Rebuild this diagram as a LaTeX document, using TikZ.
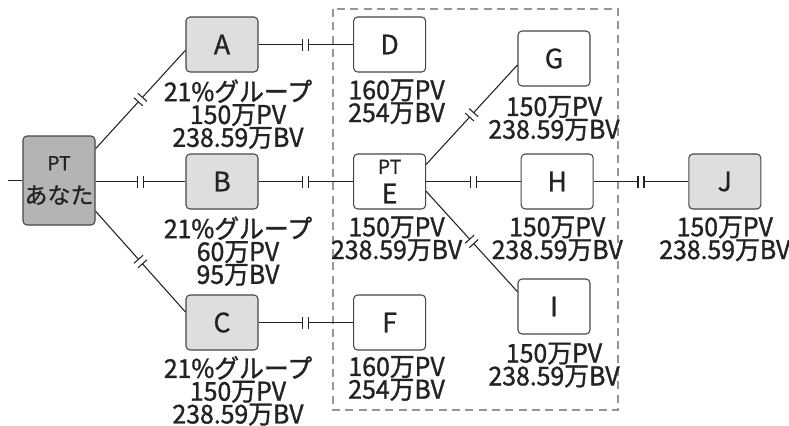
\documentclass[tikz,border=0pt]{standalone}
\usepackage{fontspec}
\setmainfont{Noto Sans CJK JP}[FakeBold=0.8]
\newfontfamily\lblfont{Noto Sans CJK JP}[FakeStretch=0.96,FakeBold=1.2]
\usetikzlibrary{positioning,decorations.markings,calc}
\definecolor{youfill}{RGB}{180,180,183}
\definecolor{memfill}{RGB}{221,222,224}
\definecolor{edge}   {RGB}{ 70, 70, 70}
\definecolor{ink}    {RGB}{ 35, 35, 35}
\definecolor{grpline}{RGB}{150,150,150}
\newcommand{\infofont}{\lblfont\fontsize{19.4}{17.1}\selectfont\lineskiplimit=-30pt\relax}
\tikzset{
  box/.style   ={rectangle,draw=edge,line width=0.8pt,rounded corners=3pt,
                 minimum width=54pt,minimum height=41.25pt,inner sep=0pt,
                 align=center,text=ink,font=\fontsize{20}{21}\selectfont},
  boxg/.style  ={box,fill=memfill},
  boxw/.style  ={box,fill=white},
  youbox/.style={box,fill=youfill,minimum height=66.75pt},
  info/.style  ={align=center,inner sep=0pt,text=ink,font=\infofont},
  infol/.style ={info,xshift=12pt},
  infom/.style ={info,xshift=5.25pt},
  link/.style  ={line width=0.8pt,draw=ink},
  cut/.style   ={link,postaction={decorate},
                 decoration={markings,mark=at position 0.5 with {
                   \fill[white] (-2.25pt,-4.5pt) rectangle (2.25pt,4.5pt);
                   \draw[link] (-2.25pt,-4.5pt) -- (-2.25pt,4.5pt)
                               (2.25pt,-4.5pt) -- (2.25pt,4.5pt);}}},
}
\newcommand{\ptsmall}{{\fontsize{14.5}{15}\selectfont PT}}

\begin{document}
\begin{tikzpicture}[x=0.75pt,y=-0.75pt,node distance=70.9pt]
  \useasboundingbox (0,0) rectangle (789,425);
  % group frame
  \draw[grpline,line width=0.8pt,dash pattern=on 6pt off 4pt] (333,9) rectangle (618,410);
  % members
  \node[youbox] (you) at (59,180.5) {\ptsmall\\[4pt]{\fontsize{17.2}{18}\selectfont あなた}};
  \node[boxg] (A) at (222,44.5)  {A};
  \node[boxg] (B) at (222,181.5) {B};
  \node[boxg] (C) at (222,322.5) {C};
  \node[boxw,right=of A] (D) {D};
  \node[boxw,right=of B] (E) {\ptsmall\\[1pt]E};
  \node[boxw,right=of C] (F) {F};
  \node[boxw] (G) at (554,58.5)  {G};
  \node[boxw,right=of E] (H) {H};
  \node[boxw] (I) at (554,306.5) {I};
  \node[boxg,right=of H] (J) {J};
  \coordinate[left=10.5pt of you.west] (feed);
  % figures
  \node[infol,below=5pt of A] (Ainfo) {21\%グループ\\150万PV\\238.59万BV};
  \node[infol,below=5pt of B] (Binfo) {21\%グループ\\60万PV\\95万BV};
  \node[infol,below=4pt of C] (Cinfo) {21\%グループ\\150万PV\\238.59万BV};
  \node[infom,below=5pt of D] (Dinfo) {160万PV\\254万BV};
  \node[infom,below=5pt of E] (Einfo) {150万PV\\238.59万BV};
  \node[infom,below=4pt of F] (Finfo) {160万PV\\254万BV};
  \node[info,below=7pt of G]  (Ginfo) {150万PV\\238.59万BV};
  \node[info,below=5pt of H]  (Hinfo) {150万PV\\238.59万BV};
  \node[info,below=6pt of I]  (Iinfo) {150万PV\\238.59万BV};
  \node[info,below=5pt of J]  (Jinfo) {150万PV\\238.59万BV};
  % links
  \draw[link] (feed) -- (you.west);
  \draw[cut] (you.east |- B.west) -- (B.west);
  \draw[cut] (you.41) -- (A.189);
  \draw[cut] (you.320) -- (C.164);
  \draw[cut] (A) -- (D);
  \draw[cut] (B) -- (E);
  \draw[cut] (C) -- (F);
  \draw[cut] (E.25) -- (G.190);
  \draw[cut] (E) -- (H);
  \draw[cut] (E.345) -- (I.158);
  \draw[cut] (H) -- (J);
\end{tikzpicture}
\end{document}
